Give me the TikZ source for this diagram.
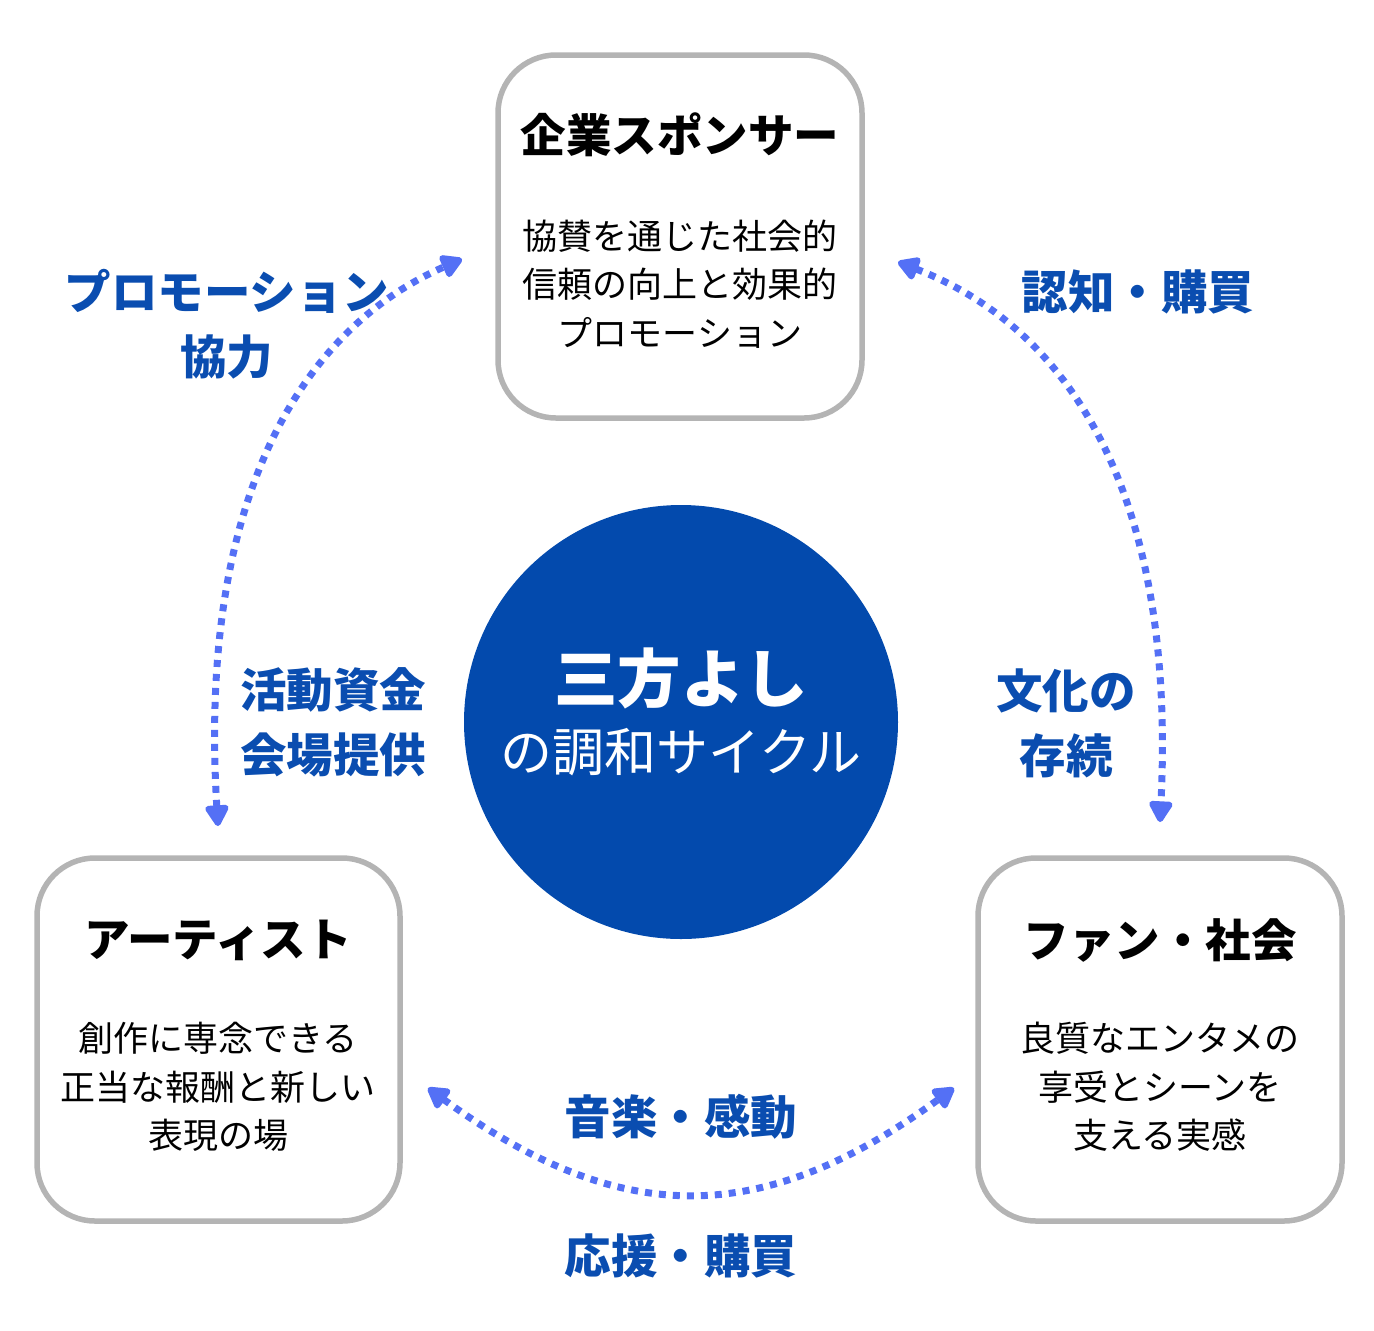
\documentclass[tikz,border=0pt]{standalone}
\usepackage{fontspec}
\newfontfamily\cjk{Noto Sans CJK JP}
\usetikzlibrary{arrows.meta}
\definecolor{circblue}{HTML}{034AAD}
\definecolor{lblblue}{HTML}{0A4DB0}
\definecolor{arrblue}{HTML}{5470F5}
\definecolor{boxgray}{HTML}{B4B4B4}
\tikzset{
  box/.style={draw=boxgray, line width=5.5pt, rounded corners=58pt, fill=white},
  boxtitle/.style={font=\cjk\bfseries\fontsize{45.5}{50}\selectfont, text=black, inner sep=0pt},
  boxbody/.style={font=\cjk\fontsize{35}{48.5}\selectfont, text=black, align=center, inner sep=0pt},
  lbl/.style={font=\cjk\bfseries\fontsize{46.5}{65}\selectfont, text=lblblue, align=center, inner sep=0pt},
  flow/.style={draw=arrblue, line width=7pt, dash pattern=on 7pt off 7pt,
    {Triangle[length=24pt,width=26pt,round]}-{Triangle[length=24pt,width=26pt,round]}},
}
\begin{document}
\begin{tikzpicture}[x=1pt,y=-1pt]
\useasboundingbox (0,0) rectangle (1374,1331);
% boxes
\draw[box] (498,55) rectangle (862,418);
\draw[box] (37,858) rectangle (400,1221);
\draw[box] (978,858) rectangle (1342,1221);
% box texts
\node[boxtitle] (t1) at (680,135) {企業スポンサー};
\node[boxbody] (b1) at (680,284) {協賛を通じた社会的\\信頼の向上と効果的\\プロモーション};
\node[boxtitle] (t2) at (218,940) {アーティスト};
\node[boxbody] (b2) at (218,1087) {創作に専念できる\\正当な報酬と新しい\\表現の場};
\node[boxtitle] (t3) at (1160,940) {ファン・社会};
\node[boxbody] (b3) at (1160,1087) {良質なエンタメの\\享受とシーンを\\支える実感};
% center circle
\node[circle, fill=circblue, minimum size=434pt, inner sep=0pt] (c) at (681,722) {};
\node[font=\cjk\bfseries\fontsize{63.5}{70}\selectfont, text=white, inner sep=0pt] (c1) at (681,678) {三方よし};
\node[font=\cjk\fontsize{52}{60}\selectfont, text=white, inner sep=0pt] (c2) at (681,752) {の調和サイクル};
% arrow endpoints
\coordinate (la) at (218,826);
\coordinate (lb) at (462,259);
\coordinate (ra) at (898,262);
\coordinate (rb) at (1160,822);
\coordinate (ba) at (428,1088);
\coordinate (bb) at (954,1088);
\draw[flow] (la) .. controls (198,500) and (300,330) .. (lb);
\draw[flow] (ra) .. controls (1074,330) and (1176,500) .. (rb);
\draw[flow] (ba) .. controls (620,1228) and (762,1228) .. (bb);
% labels
\node[lbl] (l1) at (227,324) {プロモーション\\協力};
\node[lbl] (l2) at (1138,292) {認知・購買};
\node[lbl] (l3) at (333,722) {活動資金\\会場提供};
\node[lbl] (l4) at (1066,723) {文化の\\存続};
\node[lbl] (l5) at (681,1117) {音楽・感動};
\node[lbl] (l6) at (681,1256) {応援・購買};
\end{tikzpicture}
\end{document}
